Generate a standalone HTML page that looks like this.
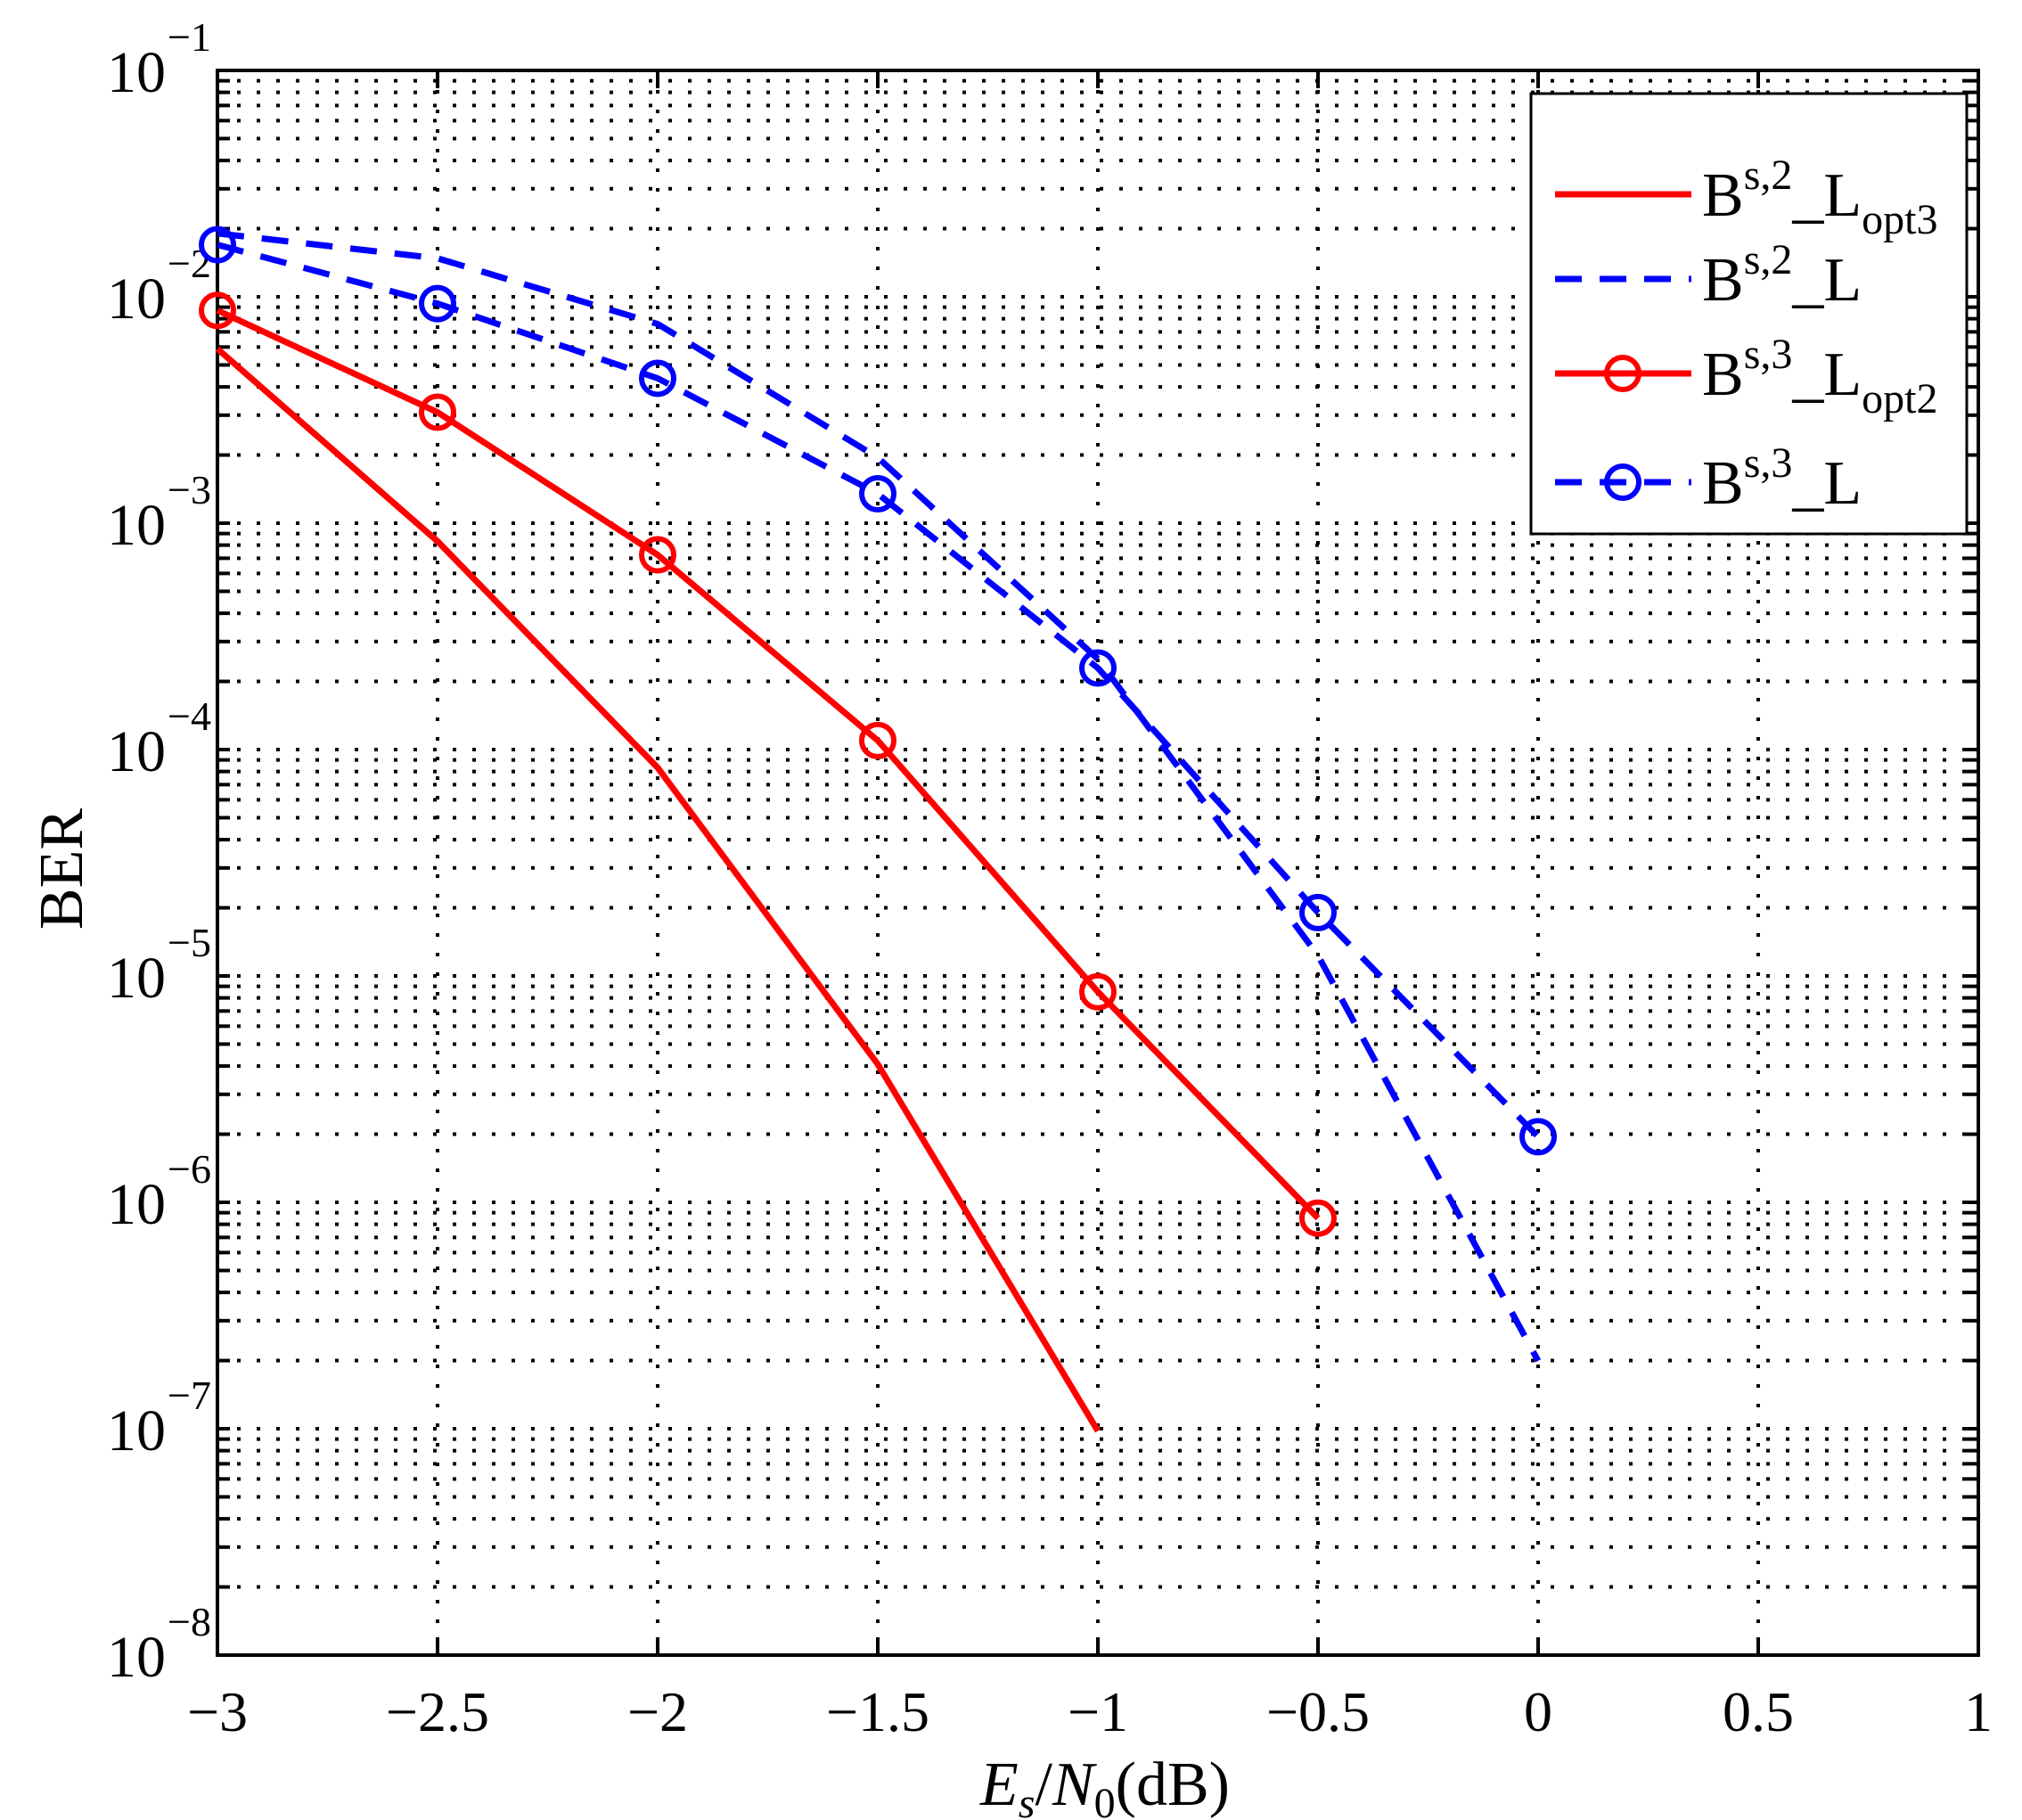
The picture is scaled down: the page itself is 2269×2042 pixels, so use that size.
<!DOCTYPE html>
<html><head><meta charset="utf-8"><style>
html,body{margin:0;padding:0;background:#fff}
svg{display:block}
text{font-family:"Liberation Serif",serif;fill:#000}
</style></head><body>
<svg id="s" width="2269" height="2042" xmlns="http://www.w3.org/2000/svg"></svg>
<script>
const NS="http://www.w3.org/2000/svg",s=document.getElementById('s');
const L=244,R=2220,T=79,B=1857;
const X=v=>L+(v+3)/4*(R-L);
const Y=d=>T+(-1-d)/7*(B-T);
function el(n,a,t){const e=document.createElementNS(NS,n);for(const k in a)e.setAttribute(k,a[k]);if(t!=null)e.innerHTML=t;s.appendChild(e);return e;}
for(let dec=-8;dec<-1;dec++){for(let m=1;m<10;m++){const y=Y(dec+Math.log10(m));
 if(m>1||dec>-8){el('line',{x1:L,x2:R,y1:y,y2:y,stroke:'#000','stroke-width':4,'stroke-dasharray':'4 18'});}
 el('line',{x1:L,x2:L+14,y1:y,y2:y,stroke:'#000','stroke-width':4});
 el('line',{x1:R-14,x2:R,y1:y,y2:y,stroke:'#000','stroke-width':4});}}
for(let i=1;i<8;i++){const x=X(-3+i*0.5);
 el('line',{x1:x,x2:x,y1:T,y2:B,stroke:'#000','stroke-width':4,'stroke-dasharray':'4 18'});
 el('line',{x1:x,x2:x,y1:B-20,y2:B,stroke:'#000','stroke-width':4});
 el('line',{x1:x,x2:x,y1:T,y2:T+20,stroke:'#000','stroke-width':4});}
el('rect',{x:L,y:T,width:R-L,height:B-T,fill:'none',stroke:'#000','stroke-width':4});
const xl=['\u22123','\u22122.5','\u22122','\u22121.5','\u22121','\u22120.5','0','0.5','1'];
xl.forEach((t,i)=>el('text',{x:X(-3+i*0.5),y:1942,'font-size':64,'text-anchor':'middle'},t));
for(let d=-1;d>=-8;d--){const y=Y(d);
 el('text',{x:186,y:y+24,'font-size':66,'text-anchor':'end'},'10');
 el('text',{x:188,y:y-22,'font-size':46},'\u2212'+(-d));}
el('text',{x:1240,y:2025,'font-size':70,'text-anchor':'middle'},'<tspan font-style="italic">E</tspan><tspan font-style="italic" font-size="48" dy="14">s</tspan><tspan dy="-14">/</tspan><tspan font-style="italic">N</tspan><tspan font-size="48" dy="14">0</tspan><tspan dy="-14">(dB)</tspan>');
el('text',{x:0,y:0,'font-size':70,'text-anchor':'middle',transform:'translate(92,975) rotate(-90)'},'BER');
const xs=[-3,-2.5,-2,-1.5,-1,-0.5,0];
const ser=[
 {d:[-2.23,-3.08,-4.08,-5.39,-7.01],c:'#f00',dash:null,m:false},
 {d:[-1.72,-1.83,-2.12,-2.71,-3.60,-4.91,-6.70],c:'#00f',dash:'30 20',m:false},
 {d:[-2.06,-2.51,-3.14,-3.96,-5.07,-6.07],c:'#f00',dash:null,m:true},
 {d:[-1.77,-2.03,-2.36,-2.87,-3.64,-4.72,-5.71],c:'#00f',dash:'30 20',m:true}];
ser.forEach(o=>{const pts=o.d.map((v,i)=>X(xs[i])+','+Y(v)).join(' ');
 const a={points:pts,fill:'none',stroke:o.c,'stroke-width':7};if(o.dash)a['stroke-dasharray']=o.dash;
 el('polyline',a);
 if(o.m)o.d.forEach((v,i)=>el('circle',{cx:X(xs[i]),cy:Y(v),r:18,fill:'none',stroke:o.c,'stroke-width':6}));});
el('rect',{x:1718,y:105,width:489,height:494,fill:'#fff',stroke:'#000','stroke-width':3});
const ly=[218,313,419,541],lab=[['2','opt3'],['2',''],['3','opt2'],['3','']];
ser.forEach((o,i)=>{const y=ly[i];const a={x1:1745,x2:1898,y1:y,y2:y,stroke:o.c,'stroke-width':7};if(o.dash)a['stroke-dasharray']='30 20';
 el('line',a);if(o.m)el('circle',{cx:1821,cy:y,r:18,fill:'none',stroke:o.c,'stroke-width':6});
 let t='B<tspan font-size="48" dy="-30">s,'+lab[i][0]+'</tspan><tspan dy="30">_L</tspan>';
 if(lab[i][1])t+='<tspan font-size="48" dy="20">'+lab[i][1]+'</tspan>';
 el('text',{x:1910,y:y+24,'font-size':70},t);});
</script>
</body></html>
